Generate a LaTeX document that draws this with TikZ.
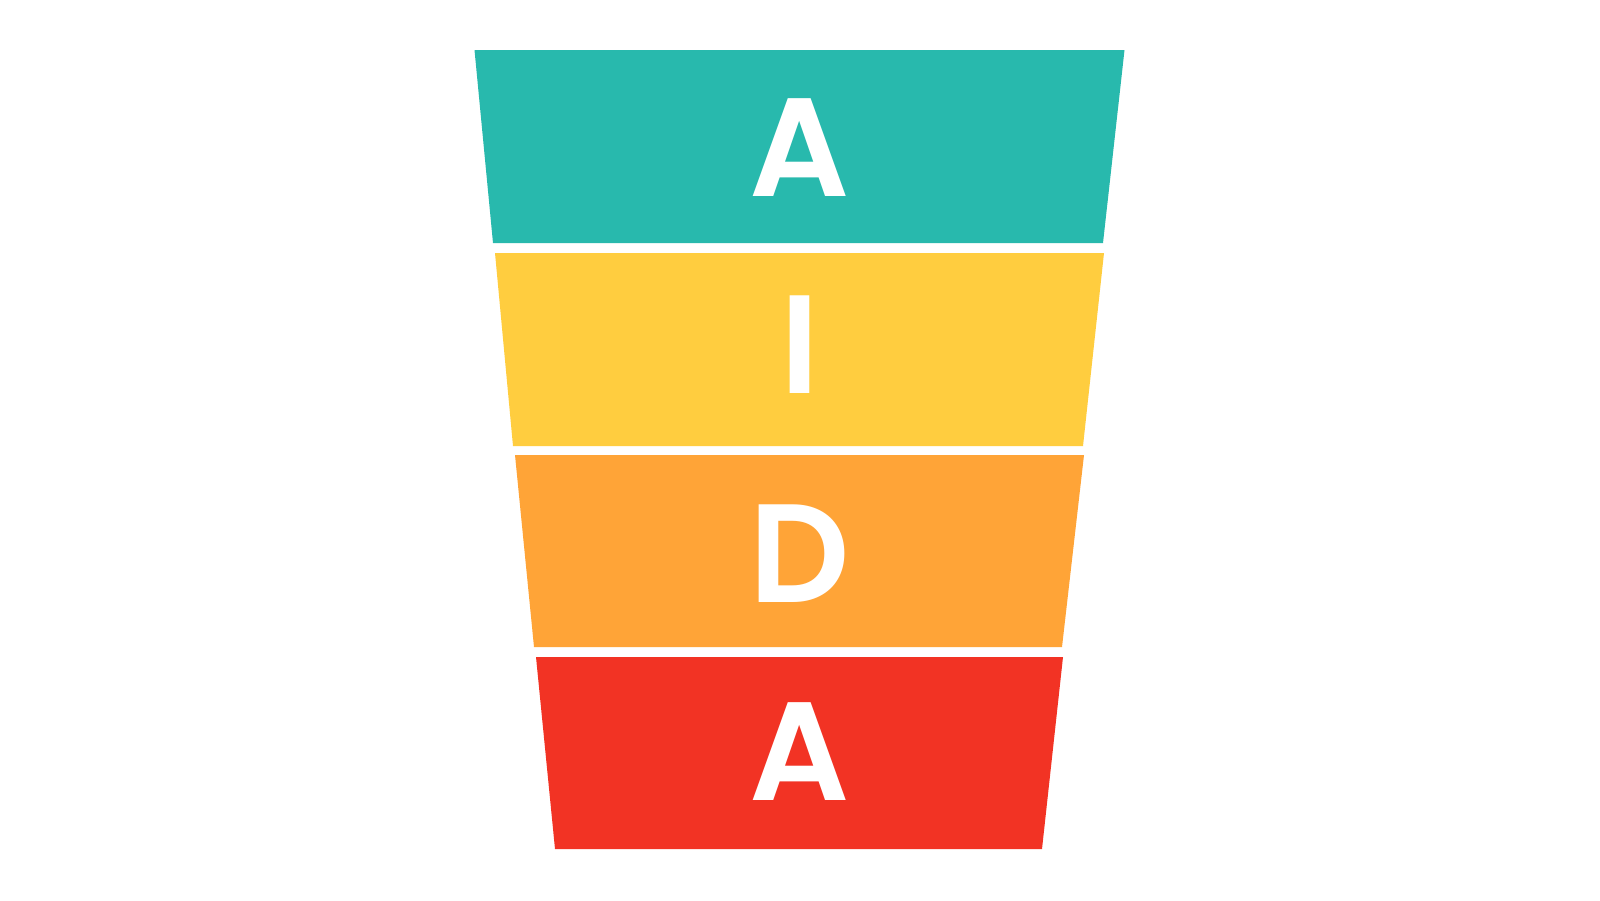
\documentclass[tikz,border=0pt]{standalone}
\usepackage{fontspec}
\newfontfamily\popfont{Poppins SemiBold}
\definecolor{cteal}{HTML}{28B9AD}
\definecolor{cyellow}{HTML}{FFCD3F}
\definecolor{corange}{HTML}{FFA437}
\definecolor{cred}{HTML}{F23324}
\begin{document}
\begin{tikzpicture}[x=1pt,y=-1pt,
  letter/.style={anchor=base,inner sep=0pt,text=white,font=\popfont\fontsize{140}{140}\selectfont}]
\useasboundingbox (0,0) rectangle (1600,900);
\fill[white] (0,0) rectangle (1600,900);
\fill[cteal]   (474.5,50) -- (1124.5,50) -- (1103,243) -- (493,243) -- cycle;
\fill[cyellow] (495,253) -- (1104,253) -- (1083,446) -- (513,446) -- cycle;
\fill[corange] (515,455) -- (1084,455) -- (1062,647) -- (534,647) -- cycle;
\fill[cred]    (536,657) -- (1063,657) -- (1042,849) -- (555,849) -- cycle;
\node[letter] (a1) at (799.5,196) {A};
\node[letter] (i)  at (799.5,393) {I};
\node[letter] (d)  at (799.5,602) {D};
\node[letter] (a2) at (799.5,800) {A};
\end{tikzpicture}
\end{document}
